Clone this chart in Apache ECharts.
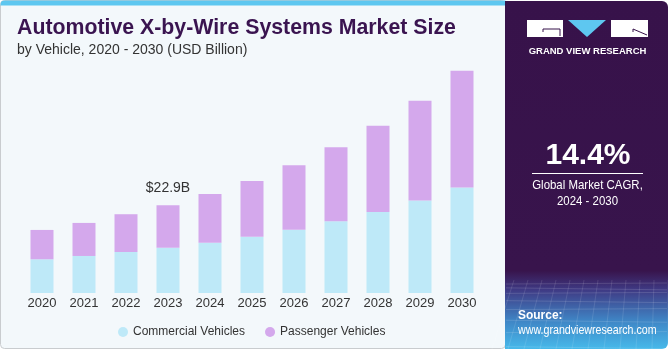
<!DOCTYPE html>
<html>
<head>
<meta charset="utf-8">
<script src="https://cdn.jsdelivr.net/npm/echarts@6/dist/echarts.min.js"></script>
<style>
html,body{margin:0;padding:0;background:#ffffff;}
#chart{width:670px;height:350px;}
</style>
</head>
<body>
<div id="chart"></div>
<script>
const years = ['2020','2021','2022','2023','2024','2025','2026','2027','2028','2029','2030'];
const commercial = [8.8, 9.66, 10.7, 11.83, 13.13, 14.7, 16.53, 18.72, 21.15, 24.1, 27.49];
const passenger = [7.65, 8.62, 9.85, 11.07, 12.72, 14.54, 16.81, 19.32, 22.45, 26.03, 30.47];
const highlightIndex = 3;
const highlightLabel = '$22.9B';
const titleText = 'Automotive X-by-Wire Systems Market Size';
const subtitleText = 'by Vehicle, 2020 - 2030 (USD Billion)';
const cagrValue = '14.4%';
const cagrLines = ['Global Market CAGR,', '2024 - 2030'];

const FONT = '"Liberation Sans", Arial, sans-serif';
const chart = echarts.init(document.getElementById('chart'), null, {renderer: 'canvas'});

const passengerData = passenger.map((v, i) => i === highlightIndex ? {
  value: v,
  label: {show: true, position: 'top', distance: 10, formatter: highlightLabel,
    color: '#333333', fontSize: 14, fontFamily: FONT}
} : v);

function txt(x, y, text, size, opts) {
  opts = opts || {};
  return {type: 'text', x: x, y: y, scaleX: opts.sx || 1,
    style: {text: text, fill: opts.fill || '#ffffff', fontSize: size,
      fontWeight: opts.bold ? 'bold' : 'normal', fontFamily: FONT,
      align: opts.align || 'center', verticalAlign: 'middle'}};
}

// decorative texture lines in the lower part of the side panel
const texture = [];
for (let k = 0; k < 9; k++) {
  const y = 284 + k * k * 0.85 + k * 3;
  texture.push({type: 'line', z: -7, silent: true,
    shape: {x1: 506, y1: y, x2: 667, y2: y + (k % 2 ? 2 : -1)},
    style: {stroke: 'rgba(255,255,255,0.13)', lineWidth: 1}});
}
for (let k = 0; k < 12; k++) {
  const x = 510 + k * 14;
  texture.push({type: 'line', z: -7, silent: true,
    shape: {x1: x + 4, y1: 280, x2: x - 6 + (k - 6) * 2, y2: 349},
    style: {stroke: 'rgba(255,255,255,0.11)', lineWidth: 1}});
}

const option = {
  backgroundColor: '#ffffff',
  animation: false,
  graphic: [
    {type: 'rect', z: -10, shape: {x: 0.5, y: 0.5, width: 505, height: 348, r: 4},
      style: {fill: '#f3f8fb', stroke: '#c9cccf', lineWidth: 1}},
    {type: 'rect', z: -9, shape: {x: 0.5, y: 0.5, width: 505, height: 5, r: [4, 0, 0, 0]},
      style: {fill: '#5ec7f0'}},
    {type: 'rect', z: -8, shape: {x: 505, y: 1, width: 163, height: 348, r: [0, 6, 6, 0]},
      style: {fill: new echarts.graphic.LinearGradient(0, 0, 0, 1, [
        {offset: 0, color: '#37124a'},
        {offset: 0.775, color: '#38144c'},
        {offset: 0.83, color: '#3f3a84'},
        {offset: 0.92, color: '#3f86c6'},
        {offset: 1, color: '#47b9ea'}
      ])}}
  ].concat(texture).concat([
    txt(17, 28, titleText, 21.3, {bold: true, fill: '#3a1450', align: 'left'}),
    txt(17, 50, subtitleText, 14, {fill: '#333333', align: 'left'}),
    // logo
    {type: 'rect', shape: {x: 527, y: 20, width: 36, height: 17}, style: {fill: '#ffffff'}},
    {type: 'polyline', shape: {points: [[543, 32], [543, 29], [560, 29], [560, 36]]}, style: {stroke: '#37124a', lineWidth: 1, fill: null}},
    {type: 'polygon', shape: {points: [[568, 20], [606, 20], [587, 37]]}, style: {fill: '#5ec7f0'}},
    {type: 'rect', shape: {x: 611, y: 20, width: 37, height: 17}, style: {fill: '#ffffff'}},
    {type: 'line', shape: {x1: 633, y1: 29, x2: 647, y2: 35}, style: {stroke: '#37124a', lineWidth: 1}},
    {type: 'line', shape: {x1: 633, y1: 29, x2: 633, y2: 32}, style: {stroke: '#37124a', lineWidth: 1}},
    txt(587.5, 51, 'GRAND VIEW RESEARCH', 9.5, {bold: true}),
    txt(588, 155.5, cagrValue, 30, {bold: true}),
    {type: 'line', shape: {x1: 532, y1: 173.5, x2: 643, y2: 173.5}, style: {stroke: '#ffffff', lineWidth: 1}},
    txt(587.5, 185.5, cagrLines[0], 13, {sx: 0.88}),
    txt(587.5, 201.5, cagrLines[1], 13, {sx: 0.88}),
    txt(518, 315, 'Source:', 13, {bold: true, align: 'left', sx: 0.92}),
    txt(518, 330, 'www.grandviewresearch.com', 13, {align: 'left', sx: 0.82})
  ]),
  legend: {
    data: ['Commercial Vehicles', 'Passenger Vehicles'],
    left: 113, top: 321,
    itemWidth: 10, itemHeight: 10, itemGap: 20, icon: 'circle',
    textStyle: {color: '#333333', fontSize: 12, fontFamily: FONT}
  },
  grid: {left: 21, right: 670 - 483, top: 63, bottom: 57, containLabel: false},
  xAxis: {
    type: 'category', data: years,
    axisLine: {show: false}, axisTick: {show: false},
    axisLabel: {color: '#333333', fontSize: 13, fontFamily: FONT, margin: 4}
  },
  yAxis: {type: 'value', min: 0, max: 60, show: false, splitLine: {show: false}},
  series: [
    {name: 'Commercial Vehicles', type: 'bar', stack: 'total', barWidth: 23,
      itemStyle: {color: '#bee9f8'}, data: commercial},
    {name: 'Passenger Vehicles', type: 'bar', stack: 'total', barWidth: 23,
      itemStyle: {color: '#d4a8ec'}, data: passengerData}
  ]
};
chart.setOption(option);
</script>
</body>
</html>
